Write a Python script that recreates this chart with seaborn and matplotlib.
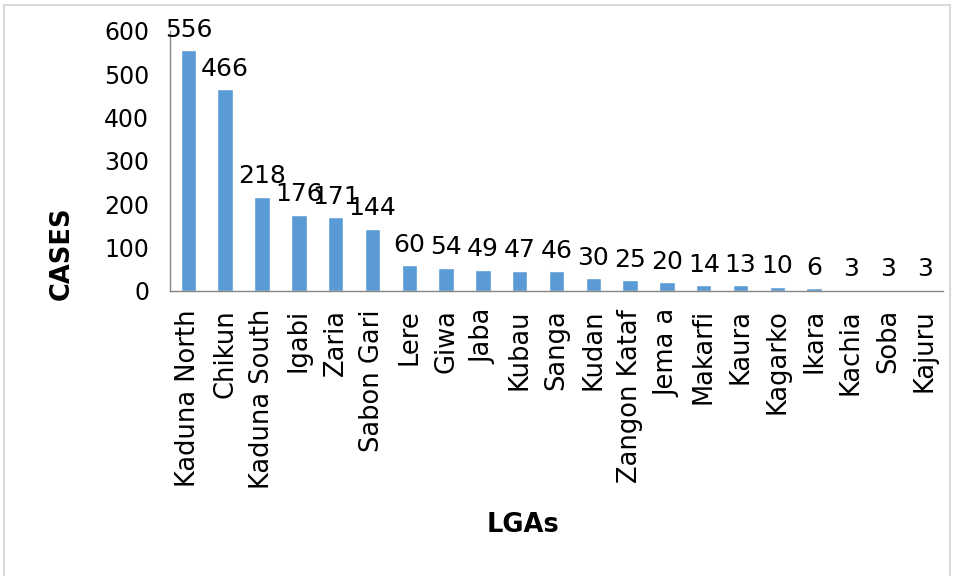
import matplotlib
matplotlib.use("Agg")
import matplotlib.pyplot as plt
from matplotlib.patches import Rectangle
import seaborn as sns
import pandas as pd
import numpy as np

lgas = ["Kaduna North", "Chikun", "Kaduna South", "Igabi", "Zaria", "Sabon Gari",
        "Lere", "Giwa", "Jaba", "Kubau", "Sanga", "Kudan", "Zangon Kataf",
        "Jema a", "Makarfi", "Kaura", "Kagarko", "Ikara", "Kachia", "Soba", "Kajuru"]
cases = [556, 466, 218, 176, 171, 144, 60, 54, 49, 47, 46, 30, 25, 20, 14, 13, 10, 6, 3, 3, 3]
y_ticks = [0, 100, 200, 300, 400, 500, 600]

sns.set_style("white")
plt.rcParams['font.family'] = ['DejaVu Sans']
plt.rcParams['text.color'] = 'black'
plt.rcParams['xtick.labelcolor'] = 'black'
plt.rcParams['ytick.labelcolor'] = 'black'

df = pd.DataFrame({"LGA": lgas, "CASES": cases})

fig = plt.figure(figsize=(9.54, 5.76), dpi=100)
ax = fig.add_axes([170/954, 1-291/576, (943-170)/954, (291-31)/576])

sns.barplot(data=df, x="LGA", y="CASES", color="#5B9BD5", width=0.42,
            saturation=1, ax=ax)

ax.set_ylim(0, 600)
ax.set_xlim(-0.5, len(lgas)-0.5)
ax.set_yticks(y_ticks)
ax.set_yticklabels([str(t) for t in y_ticks], fontsize=17, color='black')

ax.set_xticks(np.arange(-0.5, len(lgas), 1.0))
ax.set_xticklabels([])
ax.set_xticks(np.arange(len(lgas)), minor=True)
ax.set_xticklabels(lgas, minor=True, rotation=90, fontsize=18.5, color='black')
ax.tick_params(axis='x', which='major', length=10, width=1, color='#868686', direction='out')
ax.tick_params(axis='x', which='minor', length=0, pad=13)
ax.tick_params(axis='y', which='major', length=10, width=1, color='#868686', direction='out', pad=5)

for s in ["top", "right"]:
    ax.spines[s].set_visible(False)
for s in ["left", "bottom"]:
    ax.spines[s].set_color('#868686')
    ax.spines[s].set_linewidth(1)

for i, v in enumerate(cases):
    ax.annotate(str(v), (i, v), xytext=(0, 6), textcoords="offset points",
                ha="center", va="bottom", fontsize=18, color="black")

ax.set_xlabel("")
ax.set_ylabel("")
fig.text(62/954, 1-253/576, "CASES", rotation=90, ha="center", va="center",
         fontsize=18.5, fontweight="bold", color="black")
fig.text(523/954, 1-525/576, "LGAs", ha="center", va="center",
         fontsize=18.5, fontweight="bold", color="black")

fig.patches.append(Rectangle((4/954, -0.05), (950-4)/954, 1.05 - 5/576,
                             transform=fig.transFigure, fill=False,
                             edgecolor="#d9d9d9", linewidth=1.5))

fig.savefig("out.png", dpi=100)
